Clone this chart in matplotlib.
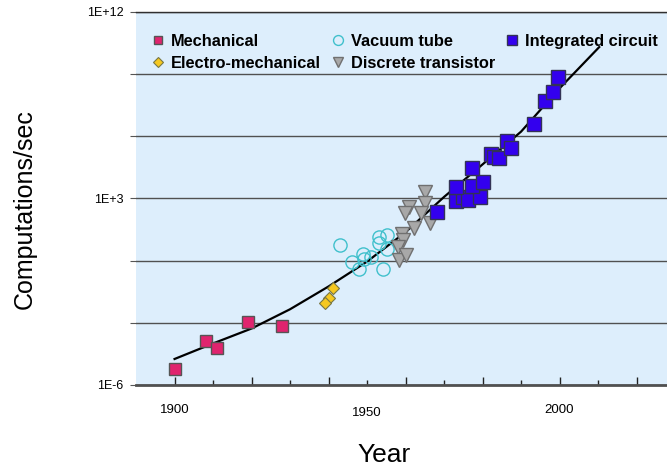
import matplotlib as mpl
mpl.use('Agg')
import matplotlib.pyplot as plt
import numpy as np

plt.rcParams['font.family'] = ['Liberation Sans', 'DejaVu Sans']

# log10(computations/sec)
mech_year = [1900.0, 1908.1, 1911.0, 1919.0, 1928.0]
mech_log = [-5.23, -3.86, -4.23, -2.96, -3.15]

elec_year = [1941.1, 1940.2, 1939.0]
elec_log = [-1.32, -1.82, -2.06]

tube_year = [1943.0, 1946.0, 1948.0, 1948.9, 1949.1, 1951.0, 1953.2, 1953.1, 1955.1, 1955.2, 1954.1]
tube_log = [0.75, -0.08, -0.42, 0.31, 0.07, 0.19, 1.13, 0.84, 1.24, 0.55, -0.42]

tran_year = [1965.0, 1965.0, 1961.0, 1959.9, 1964.1, 1966.3, 1962.2, 1959.1, 1959.3, 1958.0, 1958.2, 1960.2]
tran_log = [3.33, 2.80, 2.57, 2.31, 2.31, 1.80, 1.56, 1.29, 1.00, 0.64, 0.05, 0.27]

ic_year = [1968.2, 1973.2, 1975.0, 1976.2, 1979.3, 1973.2, 1977.2, 1980.2, 1977.2,
           1982.2, 1983.1, 1984.3, 1986.3, 1987.3, 1993.3, 1996.3, 1998.3, 1999.6]
ic_log = [2.36, 2.89, 3.09, 2.93, 3.09, 3.57, 3.60, 3.78, 4.46,
          5.13, 5.02, 4.97, 5.79, 5.42, 6.59, 7.70, 8.15, 8.85]

trend_year = [1900, 1910, 1920, 1930, 1940, 1950, 1960, 1970, 1980, 1990, 2000, 2010.3]
trend_log = [-4.75, -4.0, -3.28, -2.35, -1.25, -0.05, 1.37, 3.07, 4.64, 6.22, 8.31, 10.3]

ytick_vals = [1e-6, 1e-3, 1e0, 1e3, 1e6, 1e9, 1e12]
ytick_labels = ['1E-6', '', '', '1E+3', '', '', '1E+12']
xlabel_years = [1900, 1950, 2000]

def v(a):
    return 10.0 ** np.array(a)

fig = plt.figure(figsize=(6.67, 4.74), dpi=100)
ax = fig.add_axes([0.204, 0.188, 0.80, 0.787])
ax.set_facecolor('#DDEEFC')

ax.plot(trend_year, v(trend_log), color='black', lw=1.6, zorder=3)

ax.plot(mech_year, v(mech_log), 's', ms=8.5, mfc='#E0246E', mec='#555555', mew=1,
        label='Mechanical', zorder=4)
ax.plot(elec_year, v(elec_log), 'D', ms=6.3, mfc='#F5C820', mec='#777744', mew=0.8,
        label='Electro-mechanical', zorder=4)
ax.plot(tube_year, v(tube_log), 'o', ms=9.5, mfc='none', mec='#40C0CC', mew=1,
        label='Vacuum tube', zorder=4)
ax.plot(tran_year, v(tran_log), 'v', ms=10, mfc='#A8A8A8', mec='#707070', mew=1,
        label='Discrete transistor', zorder=4)
ax.plot(ic_year, v(ic_log), 's', ms=10, mfc='#3300EE', mec='#333355', mew=1,
        label='Integrated circuit', zorder=5)

ax.set_yscale('log')
ax.set_ylim(1e-6, 1e12)
ax.set_xlim(1890, 2028.6)

ax.set_yticks(ytick_vals)
ax.set_yticklabels(ytick_labels, fontsize=9)
ax.yaxis.set_minor_locator(mpl.ticker.NullLocator())
ax.tick_params(axis='y', length=4, color='#555555', pad=5)
ax.grid(axis='y', color='#505050', lw=1)
ax.set_axisbelow(True)

ax.set_xticks(range(1900, 2030, 20))
ax.set_xticklabels([])
ax.set_xticks(range(1910, 2030, 20), minor=True)
ax.tick_params(axis='x', which='major', direction='in', length=6, width=1, color='#222222')
ax.tick_params(axis='x', which='minor', direction='in', length=3.6, width=1, color='#222222')
for yr, off in zip(xlabel_years, [-0.067, -0.075, -0.067]):
    ax.text(yr, off, str(yr), transform=ax.get_xaxis_transform(), ha='center', va='center',
            fontsize=9.5)

for s in ['left', 'right']:
    ax.spines[s].set_visible(False)
ax.spines['top'].set_color('#303030')
ax.spines['top'].set_linewidth(1)
ax.spines['bottom'].set_color('#505050')
ax.spines['bottom'].set_linewidth(2)

ax.set_ylabel('Computations/sec', fontsize=18)
ax.yaxis.set_label_coords(-0.186, 0.47)
ax.set_xlabel('Year', fontsize=19)
ax.xaxis.set_label_coords(0.465, -0.155)

leg = ax.legend(ncol=3, loc='upper left', bbox_to_anchor=(0.0075, 0.968), frameon=False,
                prop={'weight': 'bold', 'size': 11.8}, handletextpad=0.3,
                columnspacing=0.52, labelspacing=0.42, handlelength=1.0, markerscale=0.75,
                borderaxespad=0.2)

fig.savefig('out.png', dpi=100)
